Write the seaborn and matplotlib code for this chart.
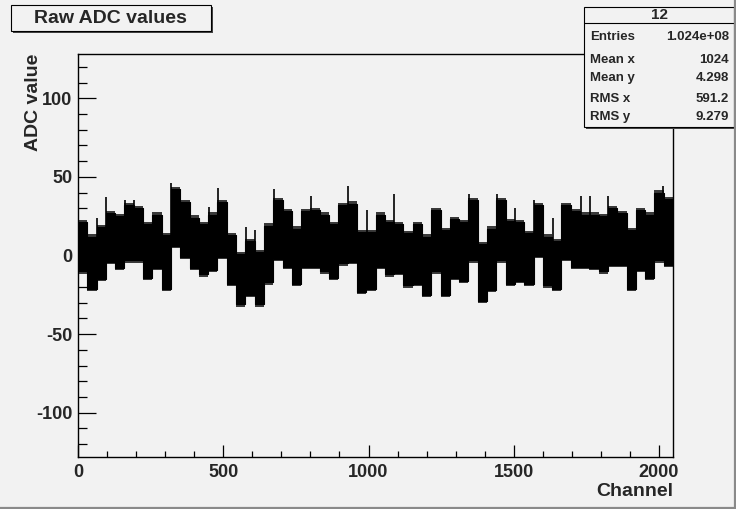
import numpy as np
import pandas as pd
import matplotlib
matplotlib.use("Agg")
import matplotlib.pyplot as plt
from matplotlib.patches import Rectangle
from matplotlib.ticker import MultipleLocator
import seaborn as sns

# ---- data (64 readout groups of 32 channels) ----
n_channels = 2048
group_size = 32
band_hi = [21, 12, 18, 27, 25, 32, 30, 20, 26, 13, 42, 34, 24, 20, 26, 34,
           13, 1, 9, 2, 19, 35, 28, 17, 28, 29, 26, 20, 32, 33, 15, 15,
           26, 21, 20, 14, 20, 12, 29, 16, 23, 21, 35, 7, 17, 35, 22, 21,
           14, 32, 12, 9, 32, 28, 26, 26, 25, 30, 27, 16, 29, 26, 40, 36]
band_lo = [-10, -21, -15, -4, -8, -3, -3, -14, -8, -21, 6, -1, -8, -12, -9, -1,
           -18, -31, -25, -31, -17, -2, -7, -18, -7, -7, -10, -14, -5, -4, -23, -21,
           -7, -12, -11, -19, -18, -25, -10, -25, -14, -16, -3, -29, -22, -3, -18, -16,
           -18, 0, -19, -21, -2, -7, -7, -8, -10, -6, -6, -21, -9, -14, -3, -6]
# isolated single-channel spikes
spike_ch = [66, 96, 162, 193, 320, 450, 482, 578, 609, 674, 802, 931, 994, 1089,
            1347, 1441, 1504, 1568, 1634, 1730, 1762, 1825, 2015]
spike_hi = [24, 37, 35, 35, 46, 31, 43, 18, 16, 42, 38, 44, 29, 39,
            39, 39, 30, 35, 24, 38, 38, 38, 44]

stat_names = ["Entries", "Mean x", "Mean y", "RMS x", "RMS y"]
stat_values = ["1.024e+08", "1024", "4.298", "591.2", "9.279"]
hist_name = "12"
title = "Raw ADC values"
xlabel = "Channel"
ylabel = "ADC value"

bg = "#f2f2f2"
sns.set_theme(style="ticks")
plt.rcParams["font.family"] = ["Liberation Sans", "DejaVu Sans"]
plt.rcParams["font.weight"] = "bold"
plt.rcParams["axes.unicode_minus"] = False

W, H = 736, 509
fig = plt.figure(figsize=(W / 100, H / 100), dpi=100, facecolor=bg)
x0, x1, y0, y1 = 78, 673, 54.3, 456.7
ax = fig.add_axes([x0 / W, 1 - y1 / H, (x1 - x0) / W, (y1 - y0) / H])
ax.set_facecolor(bg)

edges = np.arange(0, n_channels + 1, group_size)
df = pd.DataFrame({"ch": edges,
                   "hi": band_hi + [band_hi[-1]],
                   "lo": band_lo + [band_lo[-1]]})
# ragged fringe
ax.fill_between(df["ch"], df["lo"] - 1.5, df["hi"] + 1.5, step="post",
                color="#3a3a3a", lw=0, zorder=2)
ax.fill_between(df["ch"], df["lo"], df["hi"], step="post",
                color="black", lw=0, zorder=3)
sns.lineplot(data=df, x="ch", y="hi", drawstyle="steps-post", color="black",
             lw=0.8, ax=ax, zorder=4)
sns.lineplot(data=df, x="ch", y="lo", drawstyle="steps-post", color="black",
             lw=0.8, ax=ax, zorder=4)
ax.vlines(spike_ch, 0, spike_hi, color="black", lw=1.2, zorder=4)

ax.set_xlim(0, n_channels)
ax.set_ylim(-128, 128)
ax.xaxis.set_major_locator(MultipleLocator(500))
ax.xaxis.set_minor_locator(MultipleLocator(100))
ax.yaxis.set_major_locator(MultipleLocator(50))
ax.yaxis.set_minor_locator(MultipleLocator(10))
ax.tick_params(axis="x", which="major", direction="in", length=8.6, width=0.9,
               labelsize=13, pad=5, top=False, color="black")
ax.tick_params(axis="x", which="minor", direction="in", length=4.3, width=0.9,
               top=False, color="black")
ax.tick_params(axis="y", which="major", direction="in", length=13, width=0.9,
               labelsize=13, pad=4, right=False, color="black")
ax.tick_params(axis="y", which="minor", direction="in", length=6.5, width=0.9,
               right=False, color="black")
for lab in ax.get_xticklabels() + ax.get_yticklabels():
    lab.set_fontweight("bold")
for s in ax.spines.values():
    s.set_visible(True)
    s.set_color("black")
    s.set_linewidth(1.0)
ax.set_xlabel("")
ax.set_ylabel("")

# overlay in pixel coordinates for labels and boxes
ov = fig.add_axes([0, 0, 1, 1], zorder=10)
ov.set_xlim(0, W)
ov.set_ylim(H, 0)
ov.axis("off")
ov.patch.set_alpha(0)

ov.text(x1, 492, xlabel, ha="right", va="center", fontsize=14, fontweight="bold")
ov.text(33, y0 - 1, ylabel, ha="center", va="top", rotation=90,
        fontsize=14, fontweight="bold")

# title box
ov.add_patch(Rectangle((12.5, 7), 200, 25.5, facecolor="#444444", lw=0))
ov.add_patch(Rectangle((10.5, 5), 200, 25.5, facecolor=bg, edgecolor="black", lw=0.8))
ov.text(110, 18.5, title, ha="center", va="center", fontsize=14, fontweight="bold")

# stats box
ov.add_patch(Rectangle((586, 9), 150, 120, facecolor="#444444", lw=0))
ov.add_patch(Rectangle((584, 7), 150, 120, facecolor=bg, edgecolor="black", lw=0.8))
ov.plot([584, 734], [22.7, 22.7], color="black", lw=0.8)
ov.text(659, 14.5, hist_name, ha="center", va="center", fontsize=11, fontweight="bold")
row_y = [36.5, 59.5, 77.5, 99, 117]
for yy, nm, vl in zip(row_y, stat_names, stat_values):
    ov.text(590, yy, nm, ha="left", va="center", fontsize=9.5, fontweight="bold")
    ov.text(729, yy, vl, ha="right", va="center", fontsize=9.5, fontweight="bold")

# canvas border
ov.plot([0, W], [507.8, 507.8], color="#8a8a8a", lw=1.6)
ov.plot([735, 735], [0, H], color="#8a8a8a", lw=1.6)

fig.savefig("out.png", dpi=100, facecolor=bg)
